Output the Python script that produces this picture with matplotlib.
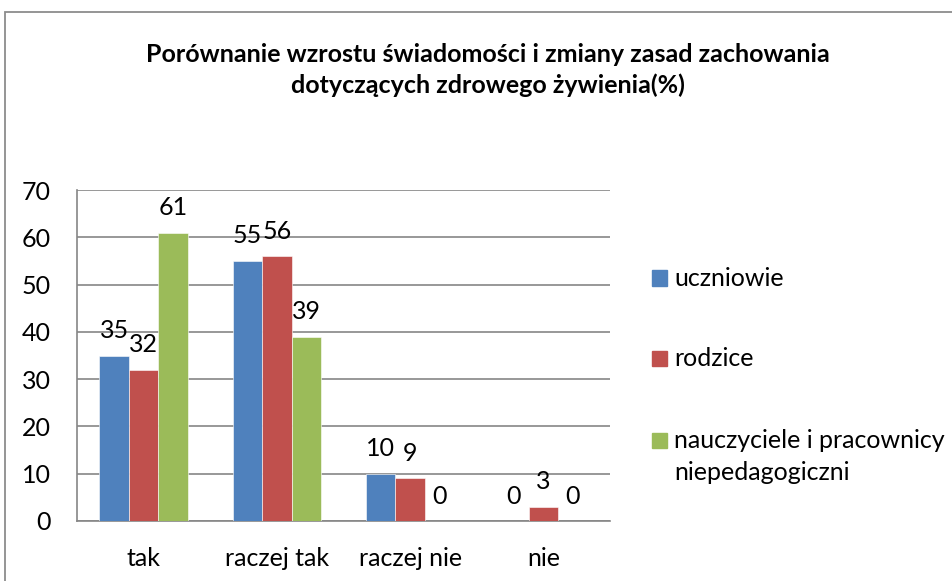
import numpy as np
import matplotlib
matplotlib.use("Agg")
import matplotlib.pyplot as plt
from matplotlib.patches import Rectangle

plt.rcParams['font.family'] = ['Lato', 'DejaVu Sans']

categories = ['tak', 'raczej tak', 'raczej nie', 'nie']
uczniowie = [35, 55, 10, 0]
rodzice = [32, 56, 9, 3]
nauczyciele = [61, 39, 0, 0]
series_names = ['uczniowie', 'rodzice', 'nauczyciele i pracownicy\nniepedagogiczni']
colors = ['#4F81BD', '#C0504D', '#9BBB59']
title = 'Porównanie wzrostu świadomości i zmiany zasad zachowania\ndotyczących zdrowego żywienia(%)'

W, H = 953, 581
fs = 18
fig = plt.figure(figsize=(W / 100, H / 100), dpi=100)

# chart area border (cut off at right and bottom like the original)
fig.patches.append(Rectangle((5 / W, -0.05), 1.1, 1 - 12 / H + 0.05, transform=fig.transFigure,
                             fill=False, edgecolor='#8c8c8c', lw=1.3))

ax = fig.add_axes([77 / W, 1 - 521 / H, (610 - 77) / W, (521 - 190) / H])

x = np.arange(len(categories))
bw = 0.222
grid_c = '#868686'
for i, (vals, c) in enumerate(zip([uczniowie, rodzice, nauczyciele], colors)):
    pos = x + (i - 1) * bw
    ax.bar(pos, vals, width=bw, color=c, edgecolor='white', linewidth=0.4, zorder=3)
    for p, v in zip(pos, vals):
        ax.annotate(str(v), (p, v), xytext=(0, 18), textcoords='offset points',
                    ha='center', va='center', fontsize=fs, color='black')

ax.set_xlim(-0.5, len(categories) - 0.5)
ax.set_ylim(0, 70)
ax.set_yticks(range(0, 71, 10))
ax.set_xticks(x)
ax.set_xticklabels(categories)
ax.tick_params(axis='both', length=0, labelsize=fs, colors='black')
ax.tick_params(axis='y', pad=19)
ax.tick_params(axis='x', pad=19)
ax.yaxis.grid(True, color=grid_c, lw=1.2, zorder=0)
for s in ['top', 'right']:
    ax.spines[s].set_visible(False)
for s in ['left', 'bottom']:
    ax.spines[s].set_color(grid_c)
    ax.spines[s].set_linewidth(1.2)

fig.text(488 / W, 1 - 70 / H, title, ha='center', va='center', fontsize=18,
         fontweight='bold', linespacing=1.42)

# legend
leg_y = [278, 358, 440]
for name, c, yy in zip(series_names, colors, leg_y):
    fig.patches.append(Rectangle((652 / W, 1 - (yy + 7.5) / H), 15 / W, 15 / H,
                                 transform=fig.transFigure, color=c))
    for k, line in enumerate(name.split('\n')):
        fig.text(674 / W, 1 - (yy + 32 * k) / H, line, ha='left', va='center', fontsize=fs)

fig.savefig('out.png', dpi=100)
